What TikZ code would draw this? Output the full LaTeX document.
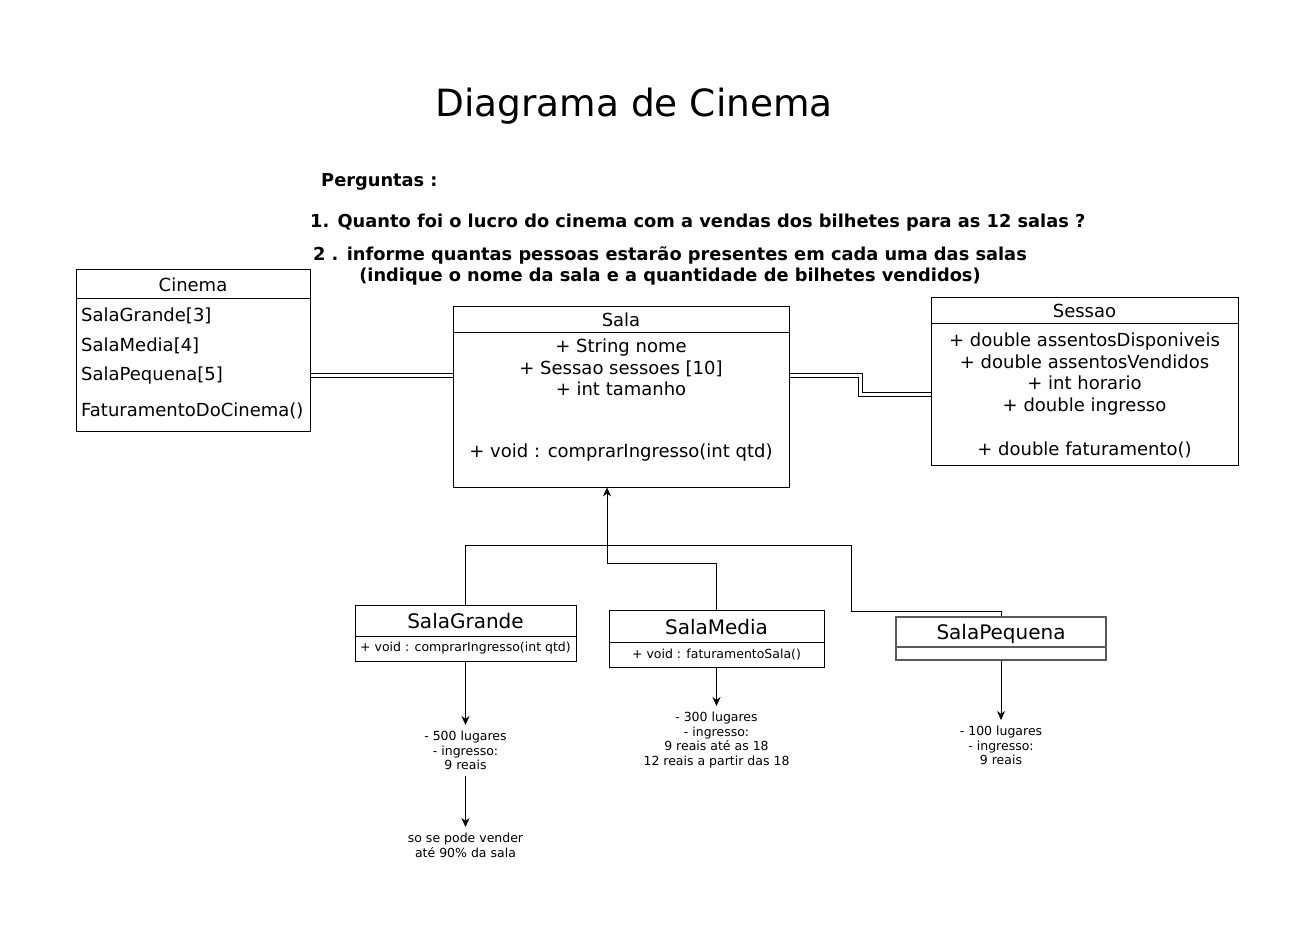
\documentclass[tikz,border=0pt]{standalone}
\usepackage{fontspec}
\setmainfont{DejaVu Sans}
\usepackage{tikz}
\usetikzlibrary{arrows.meta}

\tikzset{
	classbox/.style={draw, line width=0.8pt, inner sep=0pt},
	classname/.style={inner sep=0pt, font=\fontsize{18}{21.5}\selectfont},
	member/.style={inner sep=0pt, align=center, font=\fontsize{18}{21.7}\selectfont},
	subname/.style={inner sep=0pt, font=\fontsize{20}{24}\selectfont},
	submember/.style={inner sep=0pt, font=\fontsize{12.5}{14.5}\selectfont},
	note/.style={inner sep=6pt, align=center, font=\fontsize{12.5}{14.5}\selectfont},
	question/.style={inner sep=0pt, align=center, font=\bfseries\fontsize{17.8}{21}\selectfont},
	assoc/.style={line width=0.7pt},
	inherit/.style={-{Stealth[length=9pt,width=8pt]}, line width=0.8pt},
}

\begin{document}
\begin{tikzpicture}[x=1pt, y=-1pt]
			%%%%% START %%%%%
			\useasboundingbox (0, 0) rectangle (1314, 941);
			
			\node[font=\fontsize{37.5}{40}\selectfont] (title) at (634, 106) {Diagrama de Cinema};
			
			\node[question, anchor=west] (perg) at (321, 181.5) {Perguntas :};
			\node[question, anchor=west] (q1) at (310, 222.5) {1. Quanto foi o lucro do cinema com a vendas dos bilhetes para as 12 salas ?};
			\node[question] (q2) at (670, 265.5) {2 . informe quantas pessoas estarão presentes em cada uma das salas\\(indique o nome da sala e a quantidade de bilhetes vendidos)};
			
			% Cinema
			\node[classbox, minimum width=234, minimum height=162] (cinema) at (193, 350) {};
			\draw (cinema.west |- 0, 298) -- (cinema.east |- 0, 298);
			\node[classname] (cinemaname) at (193, 284.5) {Cinema};
			\node[classname, anchor=west] (cinemaa) at (81, 315.5) {SalaGrande[3]};
			\node[classname, anchor=west] (cinemab) at (81, 345.5) {SalaMedia[4]};
			\node[classname, anchor=west] (cinemac) at (81, 375.5) {SalaPequena[5]};
			\node[classname, anchor=west] (cinemad) at (81, 410.5) {FaturamentoDoCinema()};
			
			% Sala
			\node[classbox, minimum width=336, minimum height=181] (sala) at (621, 396.5) {};
			\draw (sala.west |- 0, 332) -- (sala.east |- 0, 332);
			\node[classname] (salaname) at (621, 320) {Sala};
			\node[member] (salaattr) at (621, 367.5) {+ String nome\\+ Sessao sessoes [10]\\+ int tamanho};
			\node[member] (salaop) at (621, 452.5) {+ void : comprarIngresso(int qtd)};
			
			% Sessao
			\node[classbox, minimum width=307, minimum height=168] (sessao) at (1084.5, 381) {};
			\draw (sessao.west |- 0, 323) -- (sessao.east |- 0, 323);
			\node[classname] (sessaoname) at (1084.5, 311) {Sessao};
			\node[member] (sessaoattr) at (1084.5, 374) {+ double assentosDisponiveis\\+ double assentosVendidos\\+ int horario\\+ double ingresso};
			\node[member] (sessaoop) at (1084.5, 449.5) {+ double faturamento()};
			
			% associacoes (linha dupla)
			\draw[assoc] (cinema.east |- 0, 373) -- (sala.west |- 0, 373);
			\draw[assoc] (cinema.east |- 0, 377) -- (sala.west |- 0, 377);
			\coordinate (kneea) at (862, 392);
			\coordinate (kneeb) at (858, 396);
			\draw[assoc] (sala.east |- 0, 373) -| (kneea) -- (sessao.west |- kneea);
			\draw[assoc] (sala.east |- 0, 377) -| (kneeb) -- (sessao.west |- kneeb);
			
			% subclasses
			\node[classbox, minimum width=221, minimum height=56] (sgrande) at (465.5, 633) {};
			\draw (sgrande.west |- 0, 636) -- (sgrande.east |- 0, 636);
			\node[subname] (sgrandename) at (465.5, 621.5) {SalaGrande};
			\node[submember] (sgrandeop) at (465.5, 648) {+ void : comprarIngresso(int qtd)};
			
			\node[classbox, minimum width=215, minimum height=57] (smedia) at (716.5, 638.5) {};
			\draw (smedia.west |- 0, 642) -- (smedia.east |- 0, 642);
			\node[subname] (smedianame) at (716.5, 627.5) {SalaMedia};
			\node[submember] (smediaop) at (716.5, 655) {+ void : faturamentoSala()};
			
			\node[classbox, draw=black!65, line width=1.3pt, minimum width=210, minimum height=43] (spequena) at (1001, 638.5) {};
			\draw[black!65, line width=1.3pt] (spequena.west |- 0, 647) -- (spequena.east |- 0, 647);
			\node[subname] (spequenaname) at (1001, 633.5) {SalaPequena};
			
			% heranca
			\coordinate (hub) at (607, 563);
			\coordinate (rail) at (851, 545);
			\coordinate (drop) at (851, 611);
			\draw[line width=0.8pt] (sgrande.north) |- (rail) -- (drop) -| (spequena.north);
			\draw[inherit] (smedia.north) |- (hub) -- (hub |- sala.south);
			
			% notas
			\node[note, anchor=north] (sgnote) at (465.5, 725) {- 500 lugares\\- ingresso:\\9 reais};
			\node[note, anchor=north] (sgrule) at (465.5, 827) {so se pode vender\\até 90\% da sala};
			\node[note, anchor=north] (smnote) at (716.5, 706) {- 300 lugares\\- ingresso:\\9 reais até as 18\\12 reais a partir das 18};
			\node[note, anchor=north] (spnote) at (1001, 720) {- 100 lugares\\- ingresso:\\9 reais};
			
			\draw[inherit] (sgrande.south) -- (sgnote.north);
			\draw[inherit] (sgnote.south) -- (sgrule.north);
			\draw[inherit] (smedia.south) -- (smnote.north);
			\draw[inherit] (spequena.south) -- (spnote.north);
			
			%%%%% END %%%%%
\end{tikzpicture}
\end{document}
